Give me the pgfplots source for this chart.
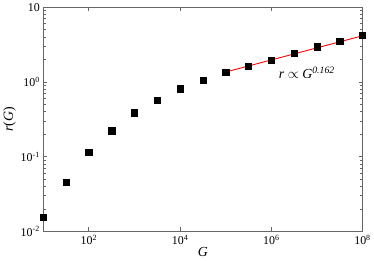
\documentclass[border=0pt]{standalone}
\usepackage{fontspec}
\setmainfont{Liberation Serif}
\usepackage{pgfplots}
\pgfplotsset{compat=1.18}
\begin{document}
\begin{tikzpicture}
\begin{axis}[
  scale only axis,
  width=322pt, height=226pt,
  xmode=log, ymode=log,
  xmin=10, xmax=1e8, ymin=0.01, ymax=10,
  axis line style={gray!80!black, line width=0.8pt},
  tick style={gray!80!black, line width=0.8pt},
  major tick length=4pt,
  minor tick num=0,
  xtick={1e2,1e4,1e6,1e8},
  xticklabels={10\textsuperscript{2},10\textsuperscript{4},10\textsuperscript{6},10\textsuperscript{8}},
  ytick={0.01,0.1,1,10},
  yticklabels={10\textsuperscript{-2},10\textsuperscript{-1},10\textsuperscript{0},10},
  ticklabel style={font=\fontsize{12}{14}\selectfont},
  xlabel={\textit{G}}, ylabel={\textit{r}(\textit{G})},
  label style={font=\fontsize{14}{16}\selectfont},
  xlabel style={yshift=4pt},
  ylabel style={yshift=-2pt},
  xtick pos=both, ytick pos=both,
  tick align=inside,
  clip=false,
]
\addplot[only marks, mark=square*, mark size=3.2pt, black] coordinates {
(1e1,0.0155) (3.162e1,0.046) (1e2,0.115) (3.162e2,0.224) (1e3,0.388)
(3.162e3,0.57) (1e4,0.81) (3.162e4,1.05) (1e5,1.34) (3.162e5,1.64)
(1e6,1.94) (3.162e6,2.42) (1e7,2.97) (3.162e7,3.49) (1e8,4.2)
};
\addplot[red, line width=0.9pt] coordinates {(1e5,1.36) (1e8,4.16)};
\node[font=\fontsize{14}{16}\selectfont] at (axis cs:6e6,1.32) {\textit{r} $\propto$ \textit{G}\textsuperscript{\textit{0.162}}};
\end{axis}
\end{tikzpicture}
\end{document}
